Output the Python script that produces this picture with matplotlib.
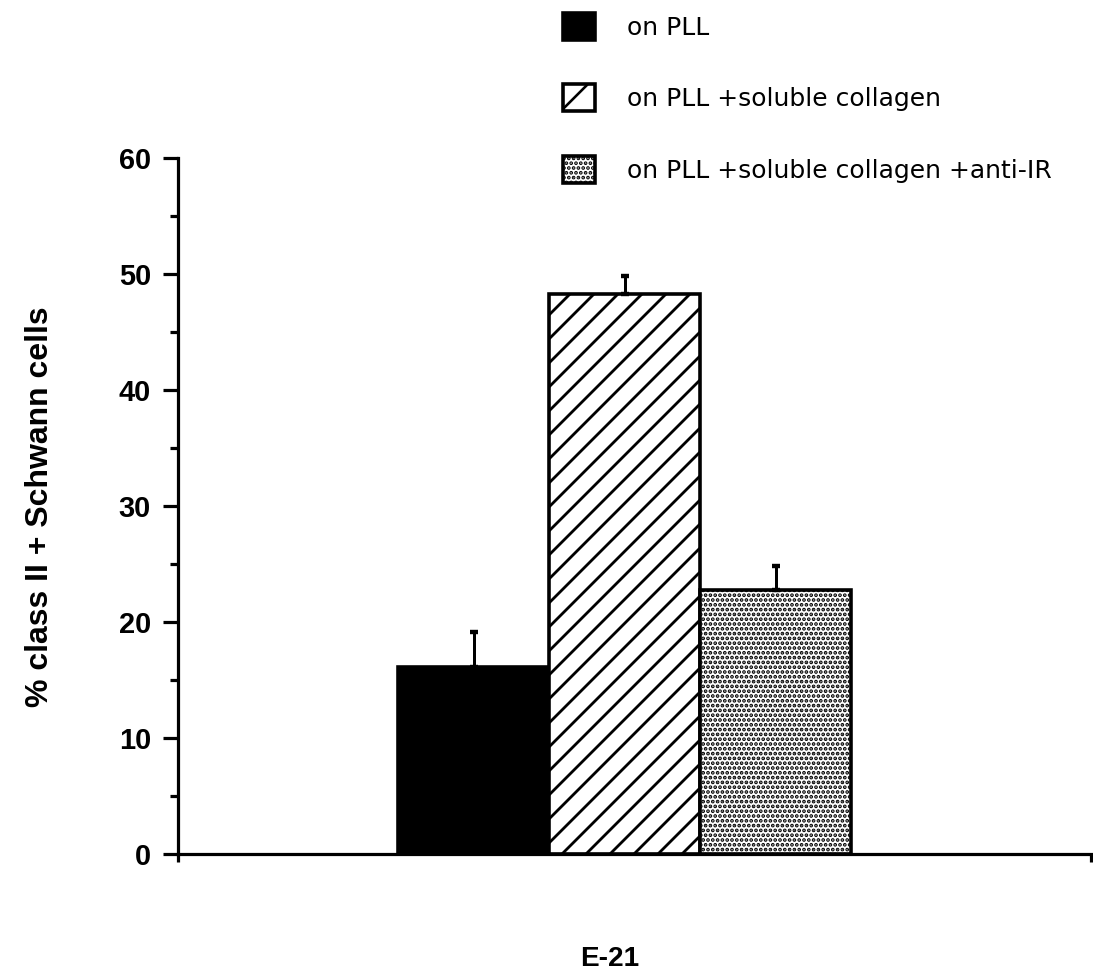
import matplotlib
matplotlib.use("Agg")
import matplotlib.pyplot as plt
from matplotlib.patches import Patch

# Data
groups = ["on PLL", "on PLL +soluble collagen", "on PLL +soluble collagen +anti-IR"]
values = [16.1, 48.3, 22.8]
errors = [3.0, 1.5, 2.0]
yticks = [0, 10, 20, 30, 40, 50, 60]
xlabel = "E-21"
ylabel = "% class II + Schwann cells"

plt.rcParams["font.family"] = ["Liberation Sans", "DejaVu Sans"]

dpi = 144
fig = plt.figure(figsize=(1093 / dpi, 980 / dpi), dpi=dpi)
ax = fig.add_axes([178 / 1093, 1 - 854 / 980, (1091 - 178) / 1093, (854 - 158) / 980])

styles = [
    dict(facecolor="black", hatch=None, hlw=1.0),
    dict(facecolor="white", hatch="//", hlw=1.4),
    dict(facecolor="white", hatch=".....", hlw=1.3),
]

x = list(range(len(values)))
for i, (v, e, st) in enumerate(zip(values, errors, styles)):
    plt.rcParams["hatch.linewidth"] = st["hlw"]
    ax.bar(x[i], v, width=1.0, facecolor=st["facecolor"], edgecolor="black",
           linewidth=1.8, hatch=st["hatch"], zorder=2)
    ax.errorbar(x[i], v, yerr=[[0], [e]], fmt="none", ecolor="black",
                elinewidth=1.5, capsize=2.0, capthick=2.2, zorder=3)

ax.set_xlim(-1.96, 4.09)
ax.set_ylim(0, 60)
ax.set_yticks(yticks)
ax.set_yticks([5, 15, 25, 35, 45, 55], minor=True)
ax.set_xticks([-1.96, 4.09])
ax.set_xticklabels([])

for s in ["top", "right"]:
    ax.spines[s].set_visible(False)
for s in ["left", "bottom"]:
    ax.spines[s].set_linewidth(1.6)

ax.tick_params(axis="y", which="major", direction="out", length=7.5, width=1.6,
               pad=6, labelsize=14.5)
ax.tick_params(axis="y", which="minor", direction="out", length=4, width=1.6)
ax.tick_params(axis="x", which="major", direction="out", length=4, width=1.6)
for lab in ax.get_yticklabels():
    lab.set_fontweight("bold")

fig.text(40 / 1093, 1 - 507 / 980, ylabel, rotation=90, ha="center", va="center",
         fontsize=16, fontweight="bold")
fig.text(610 / 1093, 1 - 959 / 980, xlabel, ha="center", va="center",
         fontsize=14, fontweight="bold")

handles = []
for st in styles:
    plt.rcParams["hatch.linewidth"] = st["hlw"]
    h = st["hatch"]
    if h == "//":
        h = "/"
    handles.append(Patch(facecolor=st["facecolor"], edgecolor="black",
                         linewidth=1.8, hatch=h))
leg = fig.legend(handles, groups, loc="upper left",
                 bbox_to_anchor=(563 / 1093, 1 - 13 / 980), frameon=False,
                 prop={"family": "DejaVu Sans", "size": 12.5},
                 handlelength=1.28, handleheight=1.28, handletextpad=1.28,
                 labelspacing=1.78, borderpad=0, borderaxespad=0)

fig.savefig("out.png", dpi=dpi)
